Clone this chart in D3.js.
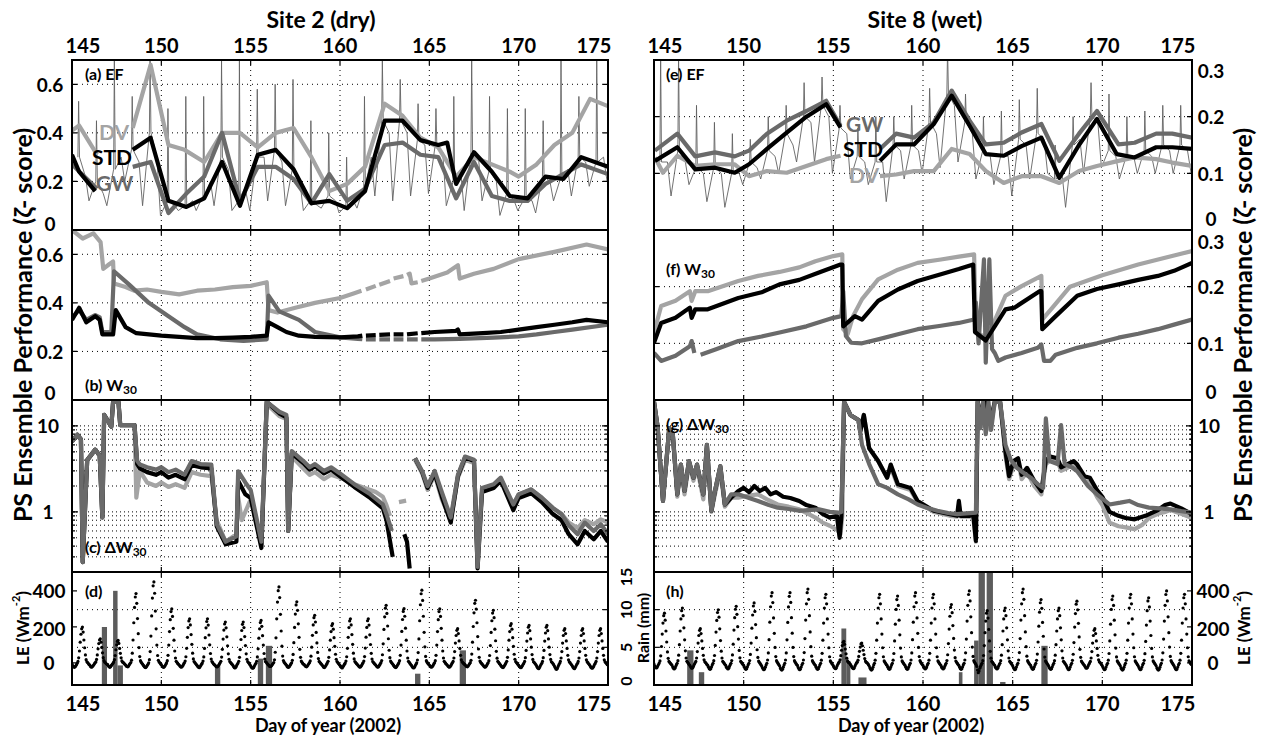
<!DOCTYPE html>
<html><head><meta charset="utf-8">
<script src="https://cdn.jsdelivr.net/npm/d3@7"></script>
<style>
body{margin:0;background:#fff;}
svg text{font-family:Lato,'Noto Sans','DejaVu Sans',sans-serif;font-weight:700;fill:#000;}
</style></head><body>
<svg id="fig" width="1263" height="738"></svg>
<script>
// ---------------- data ----------------
const dayTicks = [145, 150, 155, 160, 165, 170, 175];
const efTicksDry = [0, 0.2, 0.4, 0.6];
const efTicksWet = [0, 0.1, 0.2, 0.3];
const dwTicks = [1, 10];
const leTicks = [0, 200, 400];
const rainTicks = [0, 5, 10, 15];

// Site 2 (dry) — (a) EF daily ensemble performance
const efDV2 = [[145.0,.41],[145.4,.43],[146.4,.31],[146.45,null],[148.4,.42],[149.4,.68],[150.4,.35],[151.3,.33],[152.4,.28],[153.4,.40],[154.4,.40],[155.4,.34],[156.4,.40],[157.4,.42],[158.4,.30],[159.4,.16],[160.4,.19],[161.4,.26],[162.5,.52],[163.5,.47],[164.5,.38],[165.5,.34],[166.5,.22],[167.5,.30],[168.5,.27],[169.5,.24],[170.0,.22],[171.0,.27],[172.0,.35],[173.0,.40],[174.0,.54],[175.0,.51]];
const efSTD2 = [[145.0,.31],[145.4,.24],[146.3,.16],[146.35,null],[148.4,.33],[149.4,.38],[150.4,.12],[151.4,.095],[152.4,.13],[153.4,.28],[154.4,.10],[155.4,.31],[156.4,.33],[157.4,.25],[158.4,.11],[159.4,.12],[160.4,.09],[161.4,.16],[162.5,.45],[163.5,.45],[164.5,.37],[165.5,.35],[166.0,.36],[166.5,.19],[167.5,.32],[168.5,.24],[169.5,.14],[170.5,.13],[171.5,.22],[172.5,.21],[173.5,.30],[175.0,.26]];
const efGW2 = [[145.0,.27],[146.4,.17],[146.45,null],[148.4,.26],[149.4,.28],[150.4,.07],[151.4,.15],[152.4,.22],[153.4,.40],[154.4,.12],[155.4,.26],[156.4,.26],[157.4,.21],[158.4,.11],[159.4,.23],[160.4,.12],[161.4,.17],[162.5,.35],[163.5,.36],[164.5,.31],[165.5,.30],[166.5,.13],[167.5,.28],[168.5,.14],[169.5,.12],[170.5,.12],[171.5,.19],[172.5,.23],[173.5,.27],[175.0,.23]];
// half-hourly EF per day: [morning spike, midday, evening, night dip]
const efObsStart = 145;
const efObs2 = [[.53,.30,.22,.12],[.45,.20,.15,.10],[.70,.25,.30,.20],[.55,.33,.28,.10],[.70,.40,.30,.06],[.50,.12,.10,.08],[.55,.10,.12,.08],[.55,.14,.20,.10],[.70,.30,.25,.08],[.70,.12,.15,.08],[.58,.30,.30,.12],[.60,.33,.28,.10],[.62,.25,.20,.08],[.45,.12,.10,.09],[.40,.14,.12,.07],[.30,.10,.12,.09],[.55,.18,.30,.14],[.70,.45,.40,.12],[.62,.45,.40,.14],[.52,.37,.35,.15],[.50,.35,.32,.10],[.55,.20,.25,.08],[.70,.32,.30,.12],[.55,.24,.20,.06],[.50,.15,.12,.08],[.50,.13,.12,.07],[.45,.22,.20,.12],[.70,.21,.25,.14],[.55,.30,.28,.18],[.70,.28,.30,.20]];

// Site 2 — (b) W30
const w30DV2 = [[145.0,.70],[145.6,.665],[146.2,.686],[146.6,.65],[146.75,.54],[147.1,.56],[147.3,.57],[147.35,.48],[148.0,.465],[148.5,.45],[149.2,.455],[150.0,.445],[151.0,.435],[152.0,.45],[153.0,.455],[154.0,.465],[155.0,.47],[155.9,.485],[156.0,.37],[156.5,.36],[157.5,.38],[158.6,.40],[160.0,.42],[160.8,.44],[161.2,.45],[161.3,null],[161.45,.455],[162.0,.47],[162.05,null],[162.2,.475],[162.8,.49],[162.85,null],[163.0,.50],[163.55,.51],[163.6,null],[163.75,.515],[163.9,.52],[164.0,.48],[164.35,.485],[164.4,null],[164.55,.49],[165.0,.50],[166.0,.525],[166.6,.555],[166.7,.50],[167.5,.52],[168.6,.54],[170.0,.58],[172.0,.61],[173.8,.64],[175.0,.62]];
const w30STD2 = [[145.0,.33],[145.4,.38],[145.8,.32],[146.3,.345],[146.55,.33],[146.7,.27],[147.3,.27],[147.45,.37],[148.0,.30],[148.6,.275],[149.3,.27],[150.0,.265],[151.0,.26],[152.0,.255],[153.0,.255],[154.0,.257],[155.0,.26],[155.9,.265],[156.0,.32],[156.5,.30],[157.0,.28],[157.7,.265],[158.6,.26],[160.0,.258],[161.0,.262],[161.25,.265],[161.3,null],[161.45,.265],[162.0,.267],[162.05,null],[162.2,.268],[162.8,.27],[162.85,null],[163.0,.27],[163.55,.27],[163.6,null],[163.75,.27],[164.35,.275],[164.4,null],[164.55,.275],[165.3,.28],[166.5,.285],[166.6,.29],[166.7,.27],[168.0,.275],[169.0,.28],[170.0,.29],[171.0,.30],[172.0,.31],[173.0,.32],[173.8,.33],[175.0,.32]];
const w30GW2 = [[145.0,.34],[145.4,.37],[145.8,.33],[146.3,.35],[146.55,.34],[146.7,.28],[147.2,.28],[147.35,.53],[148.2,.475],[149.3,.40],[150.4,.345],[151.3,.30],[152.0,.27],[153.3,.25],[154.6,.243],[155.9,.25],[156.0,.43],[156.6,.365],[157.7,.33],[158.6,.28],[160.0,.258],[161.0,.252],[161.25,.25],[161.3,null],[161.45,.25],[162.0,.25],[162.05,null],[162.2,.25],[162.8,.25],[162.85,null],[163.0,.25],[163.55,.25],[163.6,null],[163.75,.25],[164.35,.25],[164.4,null],[164.55,.25],[165.3,.25],[166.7,.252],[168.6,.257],[170.0,.262],[171.0,.27],[172.0,.28],[173.0,.29],[175.0,.31]];

// Site 2 — (c) ΔW30 (log)
const dwGW2 = [[145.0,6.6],[145.3,7.9],[145.5,7.0],[145.6,0.26],[145.85,4.0],[146.3,5.3],[146.55,4.5],[146.7,0.86],[146.8,13.4],[147.2,9.8],[147.3,19],[147.6,19],[147.7,10.2],[148.5,10.2],[148.65,3.9],[148.8,3.55],[149.2,3.3],[149.7,3.1],[150.0,3.3],[150.4,2.9],[150.8,3.1],[151.3,2.7],[151.7,3.9],[152.2,3.6],[152.8,3.55],[153.1,0.72],[153.6,0.45],[154.2,0.52],[154.3,2.97],[154.7,2.2],[155.0,1.8],[155.6,0.45],[155.9,19],[156.6,14.6],[157.0,13.4],[157.1,0.6],[157.3,5.1],[157.95,3.9],[158.3,3.3],[158.6,3.6],[159.1,3.0],[159.5,3.3],[160.0,2.8],[160.8,2.1],[161.7,1.6],[162.4,1.22],[162.6,0.94],[162.9,0.6],[162.95,null],[164.2,4.2],[164.6,2.97],[164.9,2.0],[165.3,3.0],[165.7,1.7],[166.2,0.86],[166.6,2.7],[167.0,4.4],[167.5,4.05],[167.7,0.23],[167.95,1.9],[168.6,2.1],[169.0,2.5],[169.7,1.22],[170.0,1.6],[170.7,1.83],[171.3,1.46],[171.9,1.12],[172.4,0.94],[172.8,0.7],[173.3,0.55],[173.7,0.75],[174.2,0.6],[174.6,0.72],[175.0,0.55]];
const dwSTD2 = [[145.0,6.6],[145.3,7.9],[145.5,7.0],[145.6,0.26],[145.85,4.0],[146.3,5.3],[146.55,4.5],[146.7,0.86],[146.8,13.4],[147.2,9.8],[147.3,19],[147.6,19],[147.7,10.2],[148.5,10.2],[148.65,3.6],[148.8,3.2],[149.2,2.9],[149.7,2.7],[150.0,2.9],[150.4,2.5],[150.8,2.7],[151.3,2.4],[151.7,3.5],[152.2,3.3],[152.8,3.2],[153.1,0.68],[153.6,0.42],[154.2,0.45],[154.3,2.3],[154.7,1.6],[155.0,1.45],[155.6,0.38],[155.9,19],[156.6,14.0],[157.0,12.5],[157.1,0.6],[157.3,4.8],[157.95,3.7],[158.3,3.1],[158.6,3.4],[159.1,2.8],[159.5,3.1],[160.0,2.6],[160.8,1.95],[161.7,1.45],[162.4,1.1],[162.6,0.8],[162.95,0.3],[163.0,null],[163.6,0.55],[163.75,0.45],[163.9,0.22],[163.95,null],[164.2,4.2],[164.6,2.9],[164.9,1.9],[165.3,2.8],[165.7,1.5],[166.2,0.75],[166.6,2.6],[167.0,4.3],[167.5,3.9],[167.7,0.22],[167.95,1.7],[168.6,1.9],[169.0,2.3],[169.7,1.05],[170.0,1.45],[170.7,1.65],[171.3,1.3],[171.9,0.95],[172.4,0.8],[172.8,0.55],[173.3,0.42],[173.7,0.6],[174.2,0.48],[174.6,0.6],[175.0,0.45]];
const dwDV2 = [[145.0,6.6],[145.3,7.9],[145.5,7.0],[145.6,0.26],[145.85,4.0],[146.3,5.3],[146.55,4.5],[146.7,0.86],[146.8,13.4],[147.2,9.8],[147.3,19],[147.6,19],[147.7,10.2],[148.5,10.2],[148.6,1.46],[148.8,3.0],[149.2,2.2],[149.7,2.0],[150.0,2.2],[150.4,1.95],[150.8,2.1],[151.3,1.9],[151.7,2.9],[152.2,2.7],[152.8,2.6],[153.1,0.8],[153.6,0.45],[154.2,0.55],[154.3,1.5],[154.5,0.8],[154.7,1.0],[155.0,1.4],[155.6,0.42],[155.9,18],[156.6,13.0],[157.0,12.0],[157.1,0.6],[157.3,4.4],[157.95,3.2],[158.3,2.7],[158.6,2.9],[159.1,2.4],[159.5,2.7],[160.0,2.5],[160.8,2.1],[161.7,1.8],[162.0,1.7],[162.4,1.5],[162.6,1.2],[162.8,0.9],[162.9,null],[163.3,1.3],[163.7,1.35],[163.75,null],[164.2,4.0],[164.6,2.8],[164.9,1.8],[165.3,2.7],[165.7,1.4],[166.2,0.8],[166.6,2.5],[167.0,4.0],[167.5,3.7],[167.7,0.3],[167.95,1.8],[168.6,2.0],[169.0,2.4],[169.7,1.2],[170.0,1.6],[170.7,1.8],[171.3,1.45],[171.9,1.1],[172.4,0.95],[172.8,0.75],[173.3,0.65],[173.7,0.8],[174.2,0.72],[174.6,0.82],[175.0,0.75]];

// Site 2 — (d) hourly LE (W m-2), one row per day from 145, hours 0..23
const leStart = 145;
const le2 = [
"-5 -15 -20 -25 -22 -18 -10 -2 8 28 66 115 159 189 199 171 127 84 44 18 6 2 -4 -10",
"-12 -20 -24 -22 -18 -12 -6 0 5 19 44 78 107 127 134 115 86 56 29 12 4 0 -5 -8",
"-10 -18 -22 -25 -20 -14 -8 -2 5 18 41 73 100 119 125 108 80 53 28 11 4 2 -3 -8",
"-12 -18 -20 -22 -18 -10 -4 2 15 54 127 223 308 366 385 331 246 162 85 35 12 4 -2 -8",
"-14 -20 -25 -26 -22 -15 -8 0 18 63 149 261 360 428 450 387 288 189 99 41 14 5 0 -6",
"-10 -18 -22 -25 -22 -16 -8 0 12 42 99 174 240 285 300 258 192 126 66 27 9 3 -3 -8",
"-12 -18 -22 -24 -20 -14 -6 0 10 34 81 142 196 233 245 211 157 103 54 22 7 2 -4 -9",
"-14 -20 -25 -27 -22 -15 -7 -1 10 33 80 140 195 230 245 210 155 100 52 21 7 1 -5 -10",
"-12 -18 -21 -22 -19 -13 -6 0 9 32 75 132 182 216 227 195 145 95 50 20 7 2 -3 -8",
"-12 -20 -26 -28 -24 -16 -8 -1 9 31 74 130 180 214 227 196 146 96 50 20 7 2 -4 -10",
"-16 -24 -28 -30 -26 -18 -9 -2 9 33 78 137 189 224 236 203 151 99 52 21 7 3 -3 -8",
"-12 -18 -20 -20 -16 -10 -4 2 17 59 139 245 338 401 422 363 270 177 93 38 13 4 -2 -7",
"-12 -20 -24 -25 -20 -13 -6 0 14 47 112 197 271 322 339 292 217 142 75 31 10 3 -3 -8",
"-10 -16 -20 -22 -18 -12 -5 1 11 37 87 153 211 251 264 227 169 111 58 24 8 3 -2 -7",
"-12 -18 -24 -26 -22 -15 -7 0 9 31 72 126 174 207 218 187 140 92 48 20 7 2 -4 -9",
"-14 -20 -26 -28 -22 -15 -7 -1 10 34 81 142 196 233 245 211 157 103 54 22 7 2 -3 -8",
"-12 -18 -22 -24 -20 -14 -6 0 10 35 82 143 197 234 245 210 156 102 53 21 7 2 -3 -8",
"-12 -18 -22 -24 -20 -13 -6 1 13 45 106 186 256 304 320 275 205 134 70 29 10 3 -2 -8",
"-14 -20 -24 -26 -22 -15 -7 0 12 42 99 175 241 286 301 259 193 126 66 27 9 3 -3 -9",
"-14 -22 -26 -28 -24 -16 -8 0 16 57 133 234 323 384 404 347 259 170 89 36 12 4 -2 -8",
"-12 -18 -22 -24 -20 -14 -6 0 12 42 99 174 240 285 300 258 192 126 66 27 9 3 -3 -8",
"-12 -18 -22 -24 -20 -14 -6 0 8 27 63 110 152 181 190 163 122 80 42 17 6 2 -3 -8",
"-10 -16 -20 -22 -18 -12 -5 1 14 49 115 202 278 331 348 299 223 146 77 31 10 3 -2 -7",
"-12 -18 -22 -24 -20 -14 -6 0 12 41 96 169 234 277 292 251 187 123 64 26 9 3 -3 -8",
"-14 -20 -24 -26 -22 -15 -7 0 9 31 72 126 174 207 218 187 140 92 48 20 7 2 -4 -9",
"-14 -20 -25 -27 -23 -16 -8 -1 8 29 69 121 166 198 208 179 133 87 46 19 6 2 -4 -9",
"-16 -24 -30 -32 -26 -18 -9 -2 8 29 69 121 166 198 208 179 133 87 46 19 6 2 -4 -10",
"-18 -26 -34 -36 -30 -20 -10 -2 8 27 63 110 152 181 190 163 122 80 42 17 6 1 -5 -11",
"-16 -24 -30 -32 -26 -18 -9 -2 8 27 63 110 152 181 190 163 122 80 42 17 6 1 -5 -10",
"-16 -24 -28 -30 -25 -17 -8 -1 8 27 63 110 152 181 190 163 122 80 42 17 6 1 -4 -10"];
// Site 2 — rain events (start day, end day, mm)
const rainStart2 = [146.67, 147.3, 147.55, 153.0, 155.4, 155.85, 164.2, 166.7];
const rainEnd2   = [146.96, 147.55, 147.85, 153.3, 155.7, 156.2, 164.5, 167.05];
const rainMm2    = [7.7, 12.5, 2.6, 2.5, 3.5, 5.2, 1.5, 4.6];

// Site 8 (wet) — (e) EF
const efGW8 = [[145.05,.14],[146.3,.17],[147.3,.13],[148.4,.137],[149.5,.13],[150.3,.14],[151.3,.17],[152.4,.193],[153.5,.21],[154.6,.228],[155.4,.184],[155.5,null],[157.6,.143],[158.5,.17],[159.5,.163],[160.6,.19],[161.6,.246],[162.6,.193],[163.5,.151],[164.5,.154],[165.5,.172],[166.6,.187],[167.6,.122],[168.7,.17],[169.7,.21],[170.9,.151],[171.8,.154],[173.0,.17],[173.9,.17],[175.0,.163]];
const efSTD8 = [[145.05,.122],[146.3,.146],[147.3,.107],[148.4,.11],[149.5,.101],[150.3,.116],[151.3,.143],[152.4,.172],[153.5,.20],[154.6,.222],[155.4,.181],[155.5,null],[157.6,.122],[158.5,.151],[159.5,.151],[160.6,.187],[161.6,.237],[162.6,.184],[163.5,.134],[164.5,.131],[165.5,.148],[166.6,.163],[167.6,.092],[168.7,.15],[169.7,.196],[170.8,.134],[171.8,.128],[173.0,.146],[173.9,.146],[175.0,.143]];
const efDV8 = [[145.05,.128],[145.5,.101],[146.3,.131],[147.3,.113],[148.4,.116],[149.5,.116],[150.3,.095],[151.3,.104],[152.4,.101],[153.5,.113],[154.6,.125],[155.4,.131],[155.5,null],[157.6,.095],[158.5,.098],[159.5,.104],[160.6,.104],[161.6,.143],[162.6,.134],[163.5,.104],[164.5,.083],[165.5,.095],[166.6,.095],[167.6,.083],[168.7,.104],[169.7,.113],[170.9,.122],[171.8,.128],[173.0,.125],[173.9,.119],[175.0,.113]];
const efObs8 = [[.31,.12,.12,.06],[.31,.14,.12,.08],[.22,.11,.10,.05],[.19,.11,.10,.04],[.17,.10,.10,.08],[.16,.12,.11,.09],[.20,.14,.13,.10],[.22,.17,.15,.12],[.26,.20,.19,.12],[.27,.22,.20,.10],[.22,.18,.17,.09],[.18,.13,.12,.08],[.20,.12,.12,.05],[.20,.15,.14,.09],[.22,.15,.14,.10],[.25,.19,.17,.11],[.32,.24,.22,.12],[.24,.19,.17,.09],[.20,.14,.13,.08],[.21,.13,.13,.06],[.23,.16,.15,.09],[.25,.17,.16,.10],[.15,.09,.10,.04],[.20,.15,.16,.10],[.26,.20,.19,.11],[.24,.14,.13,.09],[.20,.13,.13,.10],[.21,.14,.13,.10],[.22,.15,.14,.10],[.22,.15,.14,.10]];

// Site 8 — (f) W30
const w30DV8 = [[145.0,.119],[145.4,.166],[146.2,.175],[147.0,.192],[147.1,.175],[147.3,.192],[148.0,.192],[149.7,.21],[150.8,.219],[152.0,.226],[153.1,.234],[154.0,.245],[155.0,.254],[155.5,.257],[155.55,.125],[155.8,.116],[156.1,.148],[156.6,.178],[157.5,.213],[158.6,.23],[159.7,.242],[161.0,.248],[162.0,.253],[162.85,.257],[162.95,.12],[163.5,.11],[164.0,.14],[164.6,.184],[165.5,.201],[166.6,.219],[166.65,.142],[167.3,.166],[168.2,.20],[170.0,.22],[172.0,.239],[175.0,.263]];
const w30STD8 = [[145.0,.101],[145.4,.136],[146.2,.145],[147.0,.163],[147.1,.145],[147.3,.16],[148.0,.16],[149.7,.18],[151.0,.19],[152.0,.204],[153.1,.212],[154.2,.225],[155.4,.239],[155.5,.239],[155.55,.13],[156.2,.148],[156.6,.142],[157.5,.175],[158.6,.195],[159.7,.21],[161.0,.222],[162.0,.231],[162.8,.239],[162.9,.12],[163.5,.105],[164.0,.13],[164.6,.16],[165.1,.163],[166.5,.192],[166.6,.192],[166.65,.125],[167.4,.148],[168.6,.184],[169.7,.196],[170.9,.204],[172.0,.212],[173.1,.219],[174.0,.228],[175.0,.242]];
const w30GW8 = [[145.0,.083],[145.4,.069],[146.2,.078],[147.0,.095],[147.1,.104],[147.25,.083],[147.3,null],[147.6,.08],[148.5,.09],[149.7,.104],[151.0,.112],[152.0,.119],[153.5,.13],[155.0,.145],[155.45,.148],[155.55,.192],[155.7,.113],[156.0,.101],[156.6,.1],[157.5,.107],[158.6,.116],[159.7,.125],[161.0,.131],[162.0,.136],[162.85,.142],[162.95,.172],[163.1,.1],[163.4,.248],[163.5,.066],[163.7,.248],[163.85,.09],[164.0,.083],[164.2,.069],[164.6,.075],[165.5,.083],[166.4,.092],[166.6,.098],[166.75,.069],[167.1,.069],[167.4,.08],[168.6,.092],[169.7,.1],[170.9,.11],[172.0,.117],[173.1,.125],[174.0,.133],[175.0,.142]];

// Site 8 — (g) ΔW30 (log)
const dwGW8 = [[145.0,19],[145.2,9.8],[145.5,1.34],[145.85,9.4],[146.05,7.9],[146.3,1.6],[146.5,3.55],[146.7,1.75],[146.95,3.9],[147.2,2.5],[147.4,3.55],[147.75,1.6],[147.95,6.0],[148.2,1.03],[148.4,1.75],[148.7,3.4],[148.95,1.22],[149.3,1.6],[149.7,1.6],[150.3,1.45],[150.8,1.34],[151.4,1.2],[151.9,1.12],[152.5,1.08],[153.1,1.03],[153.6,1.05],[154.2,1.07],[154.8,1.0],[155.3,0.98],[155.45,1.0],[155.6,19],[155.95,13.4],[156.4,11.7],[156.6,6.0],[157.0,3.6],[157.5,2.1],[158.0,1.9],[158.6,1.6],[159.2,1.4],[159.7,1.22],[160.2,1.12],[160.8,1.03],[161.4,0.97],[161.9,0.94],[162.4,0.96],[162.95,0.98],[163.05,19],[163.2,9.4],[163.35,19],[163.5,8.0],[163.65,19],[163.8,9.0],[164.0,19],[164.3,19],[164.6,6.0],[164.9,4.0],[165.2,3.3],[165.5,2.95],[166.0,2.5],[166.4,2.1],[166.7,1.9],[166.85,12.2],[167.05,3.9],[167.5,3.6],[167.7,10.2],[167.9,3.6],[168.3,3.3],[168.6,2.97],[169.2,2.0],[169.7,1.6],[170.4,1.22],[171.0,1.28],[171.5,1.34],[172.0,1.2],[172.6,1.12],[173.2,1.1],[173.8,1.07],[174.4,1.02],[175.0,0.98]];
const dwSTD8 = [[145.0,19],[145.2,9.8],[145.5,1.34],[145.85,9.4],[146.05,7.9],[146.3,1.6],[146.5,3.55],[146.7,1.75],[146.95,3.9],[147.2,2.5],[147.4,3.55],[147.75,1.6],[147.95,6.0],[148.2,1.03],[148.4,1.75],[148.7,3.4],[148.95,1.22],[149.3,1.46],[149.7,1.75],[150.0,1.9],[150.3,1.7],[150.6,2.0],[150.9,1.75],[151.2,1.9],[151.5,1.6],[151.8,1.7],[152.2,1.5],[152.6,1.45],[153.1,1.34],[153.5,1.2],[154.0,1.12],[154.4,0.95],[154.8,0.86],[155.2,0.9],[155.35,0.5],[155.45,0.9],[155.6,19],[155.95,13.4],[156.4,11.7],[156.5,8.6],[156.7,13.4],[157.0,5.5],[157.5,3.9],[158.0,2.5],[158.2,3.55],[158.6,2.1],[159.3,1.9],[159.7,1.34],[160.6,1.03],[161.5,0.94],[161.9,0.9],[162.0,1.34],[162.1,0.9],[162.6,0.9],[162.8,0.94],[162.95,0.46],[163.05,19],[163.3,12],[163.5,19],[163.75,11],[164.0,19],[164.3,19],[164.6,5.0],[164.8,2.6],[165.05,3.9],[165.3,4.2],[165.5,2.7],[165.8,3.25],[166.2,2.3],[166.6,1.75],[166.85,4.0],[167.1,4.4],[167.5,4.2],[167.7,3.3],[168.0,3.55],[168.4,3.9],[168.6,3.55],[169.0,2.6],[169.3,2.5],[169.7,1.8],[170.0,1.5],[170.4,1.0],[170.9,0.9],[171.3,0.85],[171.8,0.82],[172.4,0.9],[173.1,1.05],[173.5,1.2],[173.8,1.25],[174.4,1.1],[175.0,0.94]];
const dwDV8 = [[145.0,19],[145.2,9.8],[145.5,1.34],[145.85,9.4],[146.05,7.9],[146.3,1.5],[146.5,3.3],[146.7,1.6],[146.95,3.6],[147.2,2.3],[147.4,3.3],[147.75,1.4],[147.95,5.5],[148.2,1.0],[148.4,1.6],[148.7,3.0],[148.95,1.15],[149.3,1.46],[149.7,1.46],[150.3,1.55],[150.8,1.6],[151.3,1.4],[151.9,1.22],[152.5,1.15],[153.1,1.07],[153.6,0.95],[154.0,0.86],[154.4,0.75],[154.8,0.69],[155.2,0.62],[155.4,0.55],[155.5,0.9],[155.6,19],[155.95,13.4],[156.4,11.7],[156.5,8.6],[156.7,13.4],[157.0,5.5],[157.5,3.9],[158.0,2.5],[158.2,3.3],[158.6,2.0],[159.3,1.8],[159.7,1.3],[160.6,1.0],[161.5,0.9],[161.9,0.88],[162.0,1.2],[162.1,0.88],[162.6,0.88],[162.8,0.9],[162.95,0.45],[163.05,19],[163.3,10],[163.5,19],[163.75,9],[164.0,19],[164.3,19],[164.6,4.5],[164.8,2.4],[165.05,3.5],[165.3,4.0],[165.5,2.4],[165.8,2.9],[166.2,2.0],[166.6,1.6],[166.85,3.6],[167.1,4.0],[167.5,3.9],[167.7,3.0],[168.0,3.2],[168.4,3.6],[168.6,3.2],[169.0,2.3],[169.3,2.2],[169.7,1.5],[170.0,1.2],[170.4,0.75],[170.9,0.68],[171.3,0.66],[171.8,0.63],[172.2,0.7],[172.6,0.85],[173.1,0.95],[173.5,1.0],[173.8,1.05],[174.4,0.95],[175.0,0.85]];

// Site 8 — (h) hourly LE
const le8 = [
"-6 -16 -24 -28 -26 -18 -9 -1 11 39 91 160 221 262 276 237 177 116 61 25 8 3 -2 -8",
"-12 -22 -30 -34 -30 -20 -10 -2 12 43 101 177 244 290 305 262 195 128 67 27 9 3 -3 -9",
"-14 -22 -28 -30 -26 -18 -8 0 8 27 63 110 152 181 190 163 122 80 42 17 6 2 -4 -10",
"-14 -24 -32 -36 -32 -22 -11 -2 12 41 97 171 236 280 295 254 189 124 65 27 9 3 -3 -9",
"-14 -24 -30 -34 -30 -20 -10 -2 13 44 104 182 251 298 314 270 201 132 69 28 9 3 -3 -9",
"-14 -24 -32 -36 -32 -22 -11 -2 13 47 110 193 266 316 333 286 213 140 73 30 10 3 -3 -10",
"-16 -26 -34 -38 -34 -24 -12 -2 16 55 129 226 312 371 390 335 250 164 86 35 12 4 -3 -10",
"-16 -28 -36 -40 -35 -24 -12 -2 16 55 128 225 311 370 390 336 251 165 86 35 12 4 -3 -10",
"-14 -26 -34 -38 -34 -23 -11 -2 16 57 135 238 328 390 410 353 262 172 90 37 12 4 -3 -9",
"-14 -24 -32 -36 -32 -22 -11 -2 15 53 126 221 305 362 381 328 244 160 84 34 11 4 -3 -9",
"-16 -24 -30 -32 -28 -18 -8 0 5 17 40 70 96 114 120 103 77 50 26 11 4 1 -4 -10",
"-16 -24 -30 -32 -28 -18 -8 0 4 15 36 64 88 105 110 95 70 46 24 10 3 1 -4 -10",
"-18 -28 -36 -40 -36 -25 -12 -2 15 53 126 221 305 362 381 328 244 160 84 34 11 4 -3 -10",
"-14 -24 -32 -36 -32 -22 -11 -2 15 52 122 215 297 352 371 319 237 156 82 33 11 4 -3 -9",
"-14 -24 -32 -36 -32 -22 -11 -2 16 55 129 226 312 371 390 335 250 164 86 35 12 4 -3 -9",
"-14 -24 -30 -34 -30 -21 -10 -2 15 53 126 221 305 362 381 328 244 160 84 34 11 4 -3 -9",
"-14 -24 -30 -34 -30 -20 -10 -2 13 45 107 188 259 308 324 279 207 136 71 29 10 3 -3 -9",
"-14 -24 -32 -36 -32 -22 -11 -2 16 56 132 232 320 380 400 344 256 168 88 36 12 4 -3 -9",
"-20 -40 -55 -45 -30 -20 -10 -2 12 41 96 168 232 276 290 249 186 122 64 26 9 3 -3 -9",
"-14 -24 -30 -34 -30 -20 -10 -2 12 43 101 177 244 290 305 262 195 128 67 27 9 3 -3 -9",
"-16 -26 -34 -38 -34 -23 -11 -2 16 57 135 238 328 390 410 353 262 172 90 37 12 4 -3 -9",
"-14 -24 -32 -36 -32 -22 -11 -2 14 49 116 204 282 334 352 303 225 148 77 32 11 4 -3 -9",
"-16 -26 -32 -36 -32 -22 -11 -2 12 43 101 177 244 290 305 262 195 128 67 27 9 3 -3 -9",
"-16 -26 -34 -38 -34 -23 -11 -2 14 48 113 199 274 326 343 295 220 144 75 31 10 3 -3 -9",
"-14 -22 -28 -30 -26 -18 -8 0 8 27 63 110 152 181 190 163 122 80 42 17 6 2 -4 -10",
"-16 -26 -34 -38 -34 -23 -11 -2 15 52 122 215 297 352 371 319 237 156 82 33 11 4 -3 -9",
"-16 -28 -36 -40 -36 -25 -12 -2 15 53 126 221 305 362 381 328 244 160 84 34 11 4 -3 -10",
"-16 -26 -34 -38 -34 -23 -11 -2 14 51 119 210 290 344 362 311 232 152 80 33 11 4 -3 -9",
"-16 -28 -36 -40 -36 -25 -12 -2 16 56 132 232 320 380 400 344 256 168 88 36 12 4 -3 -10",
"-16 -26 -34 -38 -34 -23 -11 -2 15 53 126 221 305 362 381 328 244 160 84 34 11 4 -3 -9"];
const rainStart8 = [146.85, 147.5, 155.45, 155.72, 156.4, 162.0, 162.85, 163.1, 163.55, 164.3, 166.6];
const rainEnd8   = [147.2, 147.8, 155.72, 155.95, 156.85, 162.2, 163.1, 163.45, 163.9, 164.6, 166.95];
const rainMm8    = [4.6, 1.7, 7.5, 3.2, 1.0, 1.7, 5.9, 20, 20, 0.4, 5.2];

// ---------------- layout ----------------
const COLS = [{x0: 72, x1: 608}, {x0: 654, x1: 1192}];
const ROWS = {ef: [60, 230], w30: [230, 400], dw: [400, 572], le: [572, 685]};
const COLOR = {DV: '#a4a4a4', GW: '#6a6a6a', STD: '#000000', rain: '#5c5c5c', obs: '#626262'};
const THICK = 4.2;

const svg = d3.select('#fig');
const defs = svg.append('defs');
const gridLayer = svg.append('g');
const dataLayer = svg.append('g');
const frameLayer = svg.append('g');

function panel(ci, key) {
  const c = COLS[ci], r = ROWS[key];
  const id = `clip-${ci}-${key}`;
  defs.append('clipPath').attr('id', id).append('rect')
    .attr('x', c.x0).attr('y', r[0]).attr('width', c.x1 - c.x0).attr('height', r[1] - r[0]);
  const x = d3.scaleLinear().domain([dayTicks[0], dayTicks[dayTicks.length - 1]]).range([c.x0, c.x1]);
  return {c, r, x, grid: gridLayer.append('g'), plot: dataLayer.append('g').attr('clip-path', `url(#${id})`), frame: frameLayer.append('g')};
}

function vGrid(p) {
  p.grid.selectAll(null).data(dayTicks.slice(1, -1)).join('line')
    .attr('x1', d => p.x(d)).attr('x2', d => p.x(d)).attr('y1', p.r[0]).attr('y2', p.r[1])
    .attr('stroke', '#000').attr('stroke-width', 1).attr('stroke-dasharray', '1,4');
}
function hGrid(p, y, vals, dash) {
  p.grid.selectAll(null).data(vals).join('line')
    .attr('x1', p.c.x0).attr('x2', p.c.x1).attr('y1', d => y(d)).attr('y2', d => y(d))
    .attr('stroke', '#000').attr('stroke-width', 1).attr('stroke-dasharray', dash || '1,4');
}
function frame(p) {
  p.frame.append('rect').attr('x', p.c.x0).attr('y', p.r[0])
    .attr('width', p.c.x1 - p.c.x0).attr('height', p.r[1] - p.r[0])
    .attr('fill', 'none').attr('stroke', '#000').attr('stroke-width', 2);
  p.frame.selectAll(null).data(dayTicks).join('path')
    .attr('d', d => `M${p.x(d)},${p.r[0]}v5M${p.x(d)},${p.r[1]}v-5`)
    .attr('stroke', '#000').attr('stroke-width', 1.2);
}
function yTicks(p, y, vals, side, len) {
  const L = len || 5;
  p.frame.selectAll(null).data(vals).join('path')
    .attr('d', d => {
      const yy = y(d);
      let s = '';
      if (side !== 'right') s += `M${p.c.x0},${yy}h${L}`;
      if (side !== 'left') s += `M${p.c.x1},${yy}h${-L}`;
      return s;
    })
    .attr('stroke', '#000').attr('stroke-width', 1.2);
}
function yLabels(p, y, vals, xPos, fmt, nudge) {
  p.frame.selectAll(null).data(vals).join('text')
    .attr('x', xPos).attr('y', d => y(d) + ((nudge && nudge[d]) || 0))
    .attr('text-anchor', 'middle').attr('dominant-baseline', 'central')
    .style('font-size', '19px').text(fmt);
}
function drawLine(p, y, data, color, width) {
  p.plot.append('path').datum(data)
    .attr('d', d3.line().defined(d => d[1] != null).x(d => p.x(d[0])).y(d => y(d[1])))
    .attr('fill', 'none').attr('stroke', color).attr('stroke-width', width)
    .attr('stroke-linejoin', 'round').attr('stroke-linecap', 'butt');
}
function obsSeries(rows) {
  const pts = [];
  rows.forEach((r, i) => {
    const d = efObsStart + i;
    const [spike, mid, eve, dip] = r;
    pts.push([d + 0.33, mid], [d + 0.37, spike], [d + 0.42, mid], [d + 0.75, eve], [d + 0.95, dip]);
  });
  return pts;
}
const fmtDec = d => d === 0 ? '0' : d3.format('.1f')(d);

// ---------------- EF panels (a, e) ----------------
[[0, efDV2, efGW2, efSTD2, efObs2, [0, 0.7], efTicksDry], [1, efDV8, efGW8, efSTD8, efObs8, [0, 0.3], efTicksWet]].forEach(([ci, dv, gw, std, obs, dom, tk]) => {
  const p = panel(ci, 'ef');
  const y = d3.scaleLinear().domain(dom).range([p.r[1], p.r[0]]);
  vGrid(p);
  hGrid(p, y, tk.filter(v => v > 0 && v < dom[1]));
  drawLine(p, y, obsSeries(obs), COLOR.obs, 0.9);
  drawLine(p, y, dv, COLOR.DV, THICK);
  drawLine(p, y, gw, COLOR.GW, THICK);
  drawLine(p, y, std, COLOR.STD, THICK);
  frame(p);
  yTicks(p, y, tk);
  if (ci === 0) yLabels(p, y, tk, 50, fmtDec, {0: -7});
  else yLabels(p, y, tk, 1211, fmtDec, {0: -12, 0.3: 10});
});

// ---------------- W30 panels (b, f) ----------------
[[0, w30DV2, w30GW2, w30STD2, [0, 0.7], efTicksDry], [1, w30DV8, w30GW8, w30STD8, [0, 0.3], efTicksWet]].forEach(([ci, dv, gw, std, dom, tk]) => {
  const p = panel(ci, 'w30');
  const y = d3.scaleLinear().domain(dom).range([p.r[1], p.r[0]]);
  vGrid(p);
  hGrid(p, y, tk.filter(v => v > 0 && v < dom[1]));
  drawLine(p, y, dv, COLOR.DV, THICK);
  drawLine(p, y, gw, COLOR.GW, THICK);
  drawLine(p, y, std, COLOR.STD, THICK);
  frame(p);
  yTicks(p, y, tk);
  if (ci === 0) yLabels(p, y, tk, 50, fmtDec, {0: -8});
  else yLabels(p, y, tk, 1211, fmtDec, {0: -9, 0.3: 11});
});

// ---------------- ΔW30 panels (c, g) ----------------
[[0, dwDV2, dwSTD2, dwGW2], [1, dwDV8, dwSTD8, dwGW8]].forEach(([ci, dv, std, gw]) => {
  const p = panel(ci, 'dw');
  const y = d3.scaleLog().domain([0.2, 20]).range([p.r[1], p.r[0]]);
  const all = y.ticks().filter(v => v > 0.2 && v < 20);
  vGrid(p);
  hGrid(p, y, all, '1,3');
  drawLine(p, y, dv, COLOR.DV, THICK);
  drawLine(p, y, std, COLOR.STD, THICK);
  drawLine(p, y, gw, COLOR.GW, THICK);
  frame(p);
  yTicks(p, y, all, 'both', 3);
  yTicks(p, y, dwTicks, 'both', 6);
  yLabels(p, y, dwTicks, ci === 0 ? 48 : 1209, d => String(d));
});

// ---------------- LE / rain panels (d, h) ----------------
[[0, le2, rainStart2, rainEnd2, rainMm2], [1, le8, rainStart8, rainEnd8, rainMm8]].forEach(([ci, le, rs, re, rm]) => {
  const p = panel(ci, 'le');
  const yRain = d3.scaleLinear().domain([0, 15]).range([p.r[1], p.r[0]]);
  const yLE = d3.scaleLinear().domain([-123, 505]).range([p.r[1], p.r[0]]);
  vGrid(p);
  hGrid(p, yRain, rainTicks.filter(v => v > 0 && v < 15));
  p.plot.selectAll(null).data(rm.map((v, i) => ({s: rs[i], e: re[i], v}))).join('rect')
    .attr('x', d => p.x(d.s)).attr('width', d => p.x(d.e) - p.x(d.s))
    .attr('y', d => yRain(d.v)).attr('height', d => yRain(0) - yRain(d.v))
    .attr('fill', COLOR.rain);
  const dots = [];
  le.forEach((row, i) => row.trim().split(/\s+/).map(Number).forEach((v, h) => dots.push([leStart + i + h / 24, v])));
  p.plot.selectAll(null).data(dots).join('circle')
    .attr('cx', d => p.x(d[0])).attr('cy', d => yLE(d[1])).attr('r', 1.6).attr('fill', '#000');
  frame(p);
  if (ci === 0) {
    yTicks(p, yLE, leTicks, 'left');
    yTicks(p, yRain, rainTicks, 'right');
    yLabels(p, yLE, leTicks, 49, d => String(d), {200: 2});
    frameLayer.selectAll(null).data(rainTicks).join('text')
      .attr('transform', d => `translate(625,${yRain(d) + (d === 0 ? -4 : d === 15 ? 5 : 0)}) rotate(-90)`)
      .attr('text-anchor', 'middle').attr('dominant-baseline', 'central')
      .style('font-size', '16px').text(d => d);
  } else {
    yTicks(p, yRain, rainTicks, 'left');
    yTicks(p, yLE, leTicks, 'right');
    yLabels(p, yLE, leTicks, 1213, d => String(d), {200: 2});
  }
});

// ---------------- text ----------------
function vtext(x, y, size) {
  return svg.append('text').attr('transform', `translate(${x},${y}) rotate(-90)`)
    .attr('text-anchor', 'middle').attr('dominant-baseline', 'central').style('font-size', size + 'px');
}
function addText(x, y, str, size, anchor, color) {
  return svg.append('text').attr('x', x).attr('y', y).attr('text-anchor', anchor || 'middle')
    .attr('dominant-baseline', 'central').style('font-size', size + 'px').style('fill', color || '#000').text(str);
}

// column titles
addText(321, 19, 'Site 2  (dry)', 23);
addText(925, 19, 'Site 8  (wet)', 23);

// day-of-year tick labels, top and bottom
COLS.forEach(c => {
  const x = d3.scaleLinear().domain([145, 175]).range([c.x0, c.x1]);
  const shift = d => d === 145 ? 11 : d === 175 ? -14 : 0;
  [45, 703].forEach(yy => {
    svg.append('g').selectAll('text').data(dayTicks).join('text')
      .attr('x', d => x(d) + shift(d)).attr('y', yy)
      .attr('text-anchor', 'middle').attr('dominant-baseline', 'central')
      .style('font-size', '20px').text(d => d);
  });
  addText((c.x0 + c.x1) / 2 - 12, 725, 'Day of year (2002)', 18);
});

// axis titles
vtext(22, 325, 25).text('PS Ensemble Performance  (ζ- score)');
vtext(1242, 325, 25).text('PS Ensemble Performance  (ζ- score)');
[22, 1243].forEach(xx => {
  const t = vtext(xx, 628, 17);
  t.append('tspan').text('LE (Wm');
  t.append('tspan').attr('dy', -7).style('font-size', '11px').text('-2');
  t.append('tspan').attr('dy', 7).text(')');
});
vtext(642, 628, 16).text('Rain (mm)');

// panel tags
function tag(x, y, letter, main, sub) {
  const t = addText(x, y, '', 16, 'start');
  t.append('tspan').text(`(${letter}) ${main}`);
  if (sub) t.append('tspan').attr('dy', 5).style('font-size', '12px').text(sub);
}
tag(85, 73, 'a', 'EF');
tag(85, 384, 'b', 'W', '30');
tag(85, 546, 'c', 'ΔW', '30');
tag(85, 590, 'd', '');
tag(666, 73, 'e', 'EF');
tag(666, 268, 'f', 'W', '30');
tag(666, 423, 'g', 'ΔW', '30');
tag(666, 590, 'h', '');

// series names
addText(99, 131, 'DV', 21, 'start', COLOR.DV);
addText(92, 156, 'STD', 21, 'start', COLOR.STD);
addText(96, 182, 'GW', 21, 'start', COLOR.GW);
addText(846, 123, 'GW', 21, 'start', COLOR.GW);
addText(843, 148, 'STD', 21, 'start', COLOR.STD);
addText(849, 174, 'DV', 21, 'start', COLOR.DV);
</script></body></html>
